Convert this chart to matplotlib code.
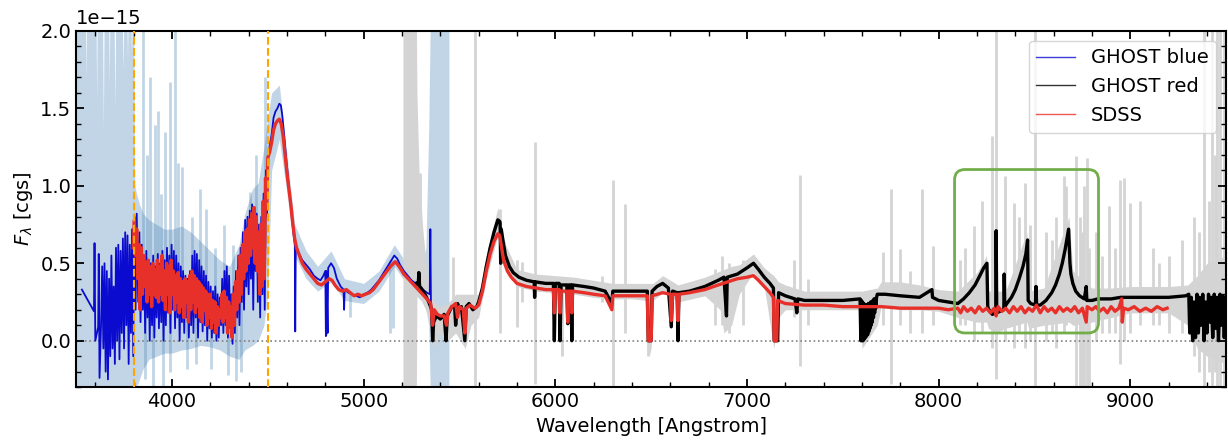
import numpy as np
import matplotlib
matplotlib.use("Agg")
import matplotlib.pyplot as plt
from matplotlib.patches import FancyBboxPatch
from matplotlib.ticker import MultipleLocator, FuncFormatter

# ---- data (flux in units of 1e-15 cgs) ----
# GHOST blue arm
blue_wave = [3530, 3593, 3596, 3600, 3615, 3618, 3622, 3630, 3636,
             3642, 3648, 3654, 3660, 3666, 3672, 3678, 3684, 3690, 3696,
             3702, 3708, 3714, 3720, 3726, 3732, 3738, 3744, 3750, 3756,
             3762, 3768, 3774, 3780, 3786, 3792, 3798, 3804, 3810, 3816,
             3824, 3830, 3836, 3842, 3848, 3854, 3860, 3866, 3872, 3878,
             3884, 3890, 3896, 3902, 3908, 3914, 3920, 3926, 3932, 3938,
             3944, 3950, 3956, 3962, 3968, 3974, 3980, 3986, 3992, 3998,
             4004, 4010, 4016, 4022, 4028, 4034, 4040, 4046, 4052, 4058,
             4064, 4070, 4076, 4082, 4088, 4094, 4100, 4106, 4112, 4118,
             4124, 4130, 4136, 4142, 4148, 4154, 4160, 4166, 4172, 4178,
             4184, 4190, 4196, 4202, 4208, 4214, 4220, 4226, 4232, 4238,
             4244, 4250, 4256, 4262, 4268, 4274, 4280, 4286, 4292, 4298,
             4304, 4310, 4316, 4322, 4328, 4334, 4340, 4346, 4352, 4358,
             4364, 4370, 4376, 4382, 4388, 4394, 4400, 4406, 4412, 4418,
             4424, 4430, 4436, 4442, 4448, 4454, 4460, 4466, 4472, 4478,
             4484, 4490, 4496, 4502, 4510, 4520, 4530, 4540, 4550, 4560,
             4568, 4575, 4585, 4595, 4605, 4615, 4625, 4635, 4641, 4643,
             4646, 4660, 4680, 4700, 4720, 4740, 4760, 4775, 4790, 4800,
             4803, 4806, 4812, 4815, 4830, 4845, 4860, 4880, 4895, 4898,
             4901, 4920, 4940, 4960, 4980, 5000, 5020, 5040, 5060, 5080,
             5100, 5120, 5140, 5160, 5175, 5190, 5210, 5230, 5250, 5270,
             5290, 5310, 5330, 5345, 5348, 5351, 5355]
blue_flux = [0.33, 0.19, 0.63, 0.00, 0.09, 0.56, -0.24, 0.10, 0.48,
             -0.05, 0.50, -0.20, 0.45, -0.25, 0.40, -0.10, 0.55, -0.05, 0.35,
             -0.15, 0.60, 0.00, 0.62, -0.12, 0.58, 0.05, 0.66, -0.05, 0.70,
             0.10, 0.68, -0.15, 0.62, 0.05, 0.72, -0.10, 0.80, 0.20, 0.82,
             0.25, 0.70, 0.12, 0.62, 0.20, 0.55, 0.05, 0.58, 0.15, 0.52,
             0.00, 0.50, 0.10, 0.55, 0.02, 0.48, 0.15, 0.56, 0.08, 0.50,
             0.12, 0.58, 0.00, 0.52, 0.10, 0.60, 0.18, 0.55, 0.05, 0.62,
             0.20, 0.58, 0.08, 0.55, 0.15, 0.50, 0.00, 0.48, 0.12, 0.45,
             0.05, 0.42, 0.15, 0.40, 0.02, 0.45, 0.10, 0.55, 0.05, 0.58,
             0.15, 0.56, 0.02, 0.52, 0.12, 0.48, 0.06, 0.45, 0.10, 0.42,
             0.00, 0.38, 0.08, 0.35, 0.02, 0.32, 0.05, 0.35, 0.00, 0.30,
             0.02, 0.28, 0.10, 0.40, 0.05, 0.45, 0.10, 0.48, 0.02, 0.42,
             0.08, 0.30, -0.02, 0.35, 0.05, 0.45, 0.15, 0.55, 0.10, 0.60,
             0.25, 0.70, 0.20, 0.78, 0.35, 0.80, 0.30, 0.84, 0.40, 0.88,
             0.20, 0.85, 0.45, 0.82, 0.25, 0.75, 0.15, 0.80, 0.30, 0.95,
             0.20, 1.10, 0.80, 1.20, 1.26, 1.33, 1.44, 1.48, 1.50, 1.53,
             1.52, 1.46, 1.33, 1.19, 1.06, 0.93, 0.80, 0.68, 0.62, 0.06,
             0.62, 0.57, 0.52, 0.49, 0.46, 0.42, 0.40, 0.39, 0.42, 0.45,
             0.03, 0.45, 0.05, 0.47, 0.50, 0.47, 0.40, 0.35, 0.33, 0.20,
             0.33, 0.31, 0.30, 0.29, 0.28, 0.30, 0.31, 0.33, 0.36, 0.39,
             0.43, 0.47, 0.51, 0.55, 0.53, 0.49, 0.45, 0.42, 0.39, 0.37,
             0.35, 0.33, 0.31, 0.30, 0.72, 0.25, 0.20]

# GHOST red arm
red_arm_wave = [5275, 5285, 5288, 5292, 5300, 5320, 5340, 5355, 5360, 5365,
                5380, 5400, 5420, 5430, 5436, 5460, 5475, 5480, 5490, 5500,
                5510, 5528, 5535, 5550, 5570, 5590, 5600, 5620, 5640, 5660,
                5680, 5700, 5710, 5712, 5715, 5718, 5725, 5740, 5760, 5780,
                5810, 5850, 5890, 5892, 5895, 5950, 5990, 5995, 6000, 6020,
                6025, 6030, 6060, 6065, 6070, 6082, 6086, 6090, 6150, 6200,
                6260, 6295, 6300, 6350, 6420, 6480, 6485, 6500, 6505, 6530,
                6560, 6590, 6605, 6612, 6636, 6640, 6645, 6700, 6780, 6850,
                6880, 6893, 6897, 6950, 7000, 7034, 7060, 7090, 7120, 7138,
                7142, 7160, 7165, 7200, 7250, 7260, 7265, 7300, 7400, 7500,
                7590, 7594, 7597, 7600, 7603, 7606, 7609, 7612, 7615, 7618,
                7621, 7624, 7627, 7630, 7633, 7636, 7639, 7642, 7645, 7648,
                7651, 7654, 7657, 7660, 7663, 7666, 7669, 7672, 7676, 7680,
                7720, 7800, 7900, 7965, 7968, 8000, 8050, 8100, 8130, 8160,
                8190, 8215, 8235, 8252, 8256, 8262, 8280, 8298, 8300, 8303,
                8320, 8340, 8342, 8345, 8356, 8380, 8400, 8420, 8440, 8455,
                8464, 8467, 8480, 8505, 8508, 8511, 8530, 8560, 8590, 8610,
                8630, 8645, 8660, 8670, 8678, 8681, 8685, 8690, 8700, 8715,
                8735, 8760, 8770, 8773, 8800, 8830, 8900, 8950, 9000, 9100,
                9200, 9290, 9305, 9310, 9318, 9325, 9332, 9340, 9348, 9355,
                9362, 9370, 9378, 9385, 9392, 9400, 9408, 9415, 9422, 9430,
                9438, 9445, 9452, 9460, 9468, 9475, 9482, 9490, 9498]
red_arm_flux = [0.37, 0.36, 0.44, 0.35, 0.34, 0.30, 0.25, 0.20, 0.00, 0.12,
                0.16, 0.14, 0.17, 0.00, 0.16, 0.22, 0.22, 0.10, 0.24, 0.20,
                0.22, 0.00, 0.22, 0.24, 0.20, 0.22, 0.25, 0.34, 0.48, 0.60,
                0.70, 0.78, 0.77, 0.76, 0.50, 0.72, 0.66, 0.55, 0.48, 0.44,
                0.41, 0.39, 0.38, 0.28, 0.38, 0.37, 0.37, 0.00, 0.37, 0.37,
                0.00, 0.36, 0.36, 0.11, 0.36, 0.36, 0.00, 0.36, 0.35, 0.34,
                0.32, 0.24, 0.32, 0.32, 0.32, 0.32, 0.00, 0.00, 0.32, 0.35,
                0.37, 0.34, 0.09, 0.32, 0.31, 0.00, 0.31, 0.32, 0.35, 0.39,
                0.41, 0.16, 0.41, 0.43, 0.47, 0.50, 0.46, 0.41, 0.37, 0.34,
                0.00, 0.00, 0.31, 0.29, 0.27, 0.18, 0.27, 0.26, 0.26, 0.26,
                0.27, 0.00, 0.26, 0.00, 0.25, 0.00, 0.24, 0.01, 0.23, 0.02,
                0.23, 0.03, 0.23, 0.04, 0.24, 0.06, 0.24, 0.08, 0.25, 0.10,
                0.25, 0.12, 0.26, 0.15, 0.27, 0.18, 0.27, 0.21, 0.28, 0.30,
                0.30, 0.29, 0.28, 0.33, 0.28, 0.26, 0.25, 0.24, 0.27, 0.31,
                0.36, 0.42, 0.47, 0.50, 0.22, 0.20, 0.17, 0.18, 0.71, 0.18,
                0.19, 0.20, 0.43, 0.22, 0.24, 0.28, 0.33, 0.40, 0.48, 0.56,
                0.65, 0.26, 0.24, 0.23, 0.35, 0.23, 0.23, 0.26, 0.31, 0.36,
                0.43, 0.50, 0.59, 0.66, 0.72, 0.62, 0.50, 0.43, 0.37, 0.32,
                0.29, 0.27, 0.35, 0.26, 0.26, 0.27, 0.27, 0.28, 0.28, 0.28,
                0.28, 0.29, 0.30, 0.05, 0.28, 0.00, 0.25, 0.02, 0.30, 0.05,
                0.28, 0.10, 0.30, 0.00, 0.25, 0.05, 0.30, 0.12, 0.28, 0.02,
                0.30, 0.08, 0.28, 0.00, 0.30, 0.10, 0.29, 0.02, 0.28]

# SDSS
sdss_wave = [3798, 3804, 3810, 3816, 3822, 3828, 3834, 3840, 3846, 3852,
             3858, 3864, 3870, 3876, 3882, 3888, 3894, 3900, 3906, 3912,
             3918, 3924, 3930, 3936, 3942, 3948, 3954, 3960, 3966, 3972,
             3978, 3984, 3990, 3996, 4002, 4008, 4014, 4020, 4026, 4032,
             4038, 4044, 4050, 4056, 4062, 4068, 4074, 4080, 4086, 4092,
             4098, 4104, 4110, 4116, 4122, 4128, 4134, 4140, 4146, 4152,
             4158, 4164, 4170, 4176, 4182, 4188, 4194, 4200, 4206, 4212,
             4218, 4224, 4230, 4236, 4242, 4248, 4254, 4260, 4266, 4272,
             4278, 4284, 4290, 4296, 4302, 4308, 4314, 4320, 4326, 4332,
             4338, 4344, 4350, 4356, 4362, 4368, 4374, 4380, 4386, 4392,
             4398, 4404, 4410, 4416, 4422, 4428, 4434, 4440, 4446, 4452,
             4458, 4464, 4470, 4476, 4482, 4488, 4494, 4500, 4510, 4520,
             4530, 4540, 4550, 4560, 4570, 4580, 4590, 4600, 4610, 4620,
             4630, 4640, 4650, 4665, 4680, 4700, 4720, 4740, 4760, 4780,
             4800, 4820, 4835, 4850, 4870, 4890, 4910, 4930, 4950, 4970,
             4990, 5010, 5030, 5050, 5080, 5110, 5140, 5165, 5185, 5210,
             5240, 5270, 5300, 5330, 5350, 5360, 5368, 5385, 5400, 5420,
             5432, 5440, 5460, 5480, 5490, 5500, 5520, 5528, 5536, 5555,
             5580, 5600, 5620, 5640, 5660, 5680, 5700, 5710, 5720, 5730,
             5750, 5770, 5800, 5850, 5900, 5950, 5990, 5995, 6000, 6020,
             6025, 6030, 6060, 6065, 6070, 6082, 6086, 6090, 6150, 6200,
             6260, 6295, 6300, 6400, 6480, 6485, 6500, 6505, 6560, 6600,
             6605, 6612, 6635, 6640, 6645, 6700, 6780, 6850, 6900, 6950,
             7000, 7034, 7060, 7090, 7120, 7138, 7142, 7155, 7160, 7200,
             7300, 7400, 7500, 7600, 7700, 7800, 7900, 8000, 8050, 8100,
             8115, 8130, 8150, 8170, 8190, 8210, 8230, 8250, 8270, 8290,
             8300, 8310, 8330, 8350, 8370, 8390, 8410, 8430, 8450, 8470,
             8490, 8510, 8530, 8550, 8570, 8590, 8610, 8630, 8650, 8670,
             8690, 8710, 8730, 8750, 8770, 8775, 8800, 8820, 8840, 8860,
             8880, 8900, 8920, 8940, 8955, 8958, 8965, 8990, 9020, 9050,
             9080, 9110, 9140, 9170, 9192]
sdss_flux = [0.60, 0.78, 0.55, 0.72, 0.40, 0.62, 0.20, 0.60, 0.30, 0.55,
             0.35, 0.50, 0.25, 0.52, 0.30, 0.48, 0.22, 0.50, 0.30, 0.46,
             0.28, 0.52, 0.25, 0.48, 0.30, 0.55, 0.26, 0.45, 0.20, 0.50,
             0.30, 0.48, 0.18, 0.52, 0.30, 0.45, 0.20, 0.42, 0.25, 0.44,
             0.18, 0.40, 0.22, 0.38, 0.15, 0.40, 0.25, 0.38, 0.12, 0.42,
             0.20, 0.45, 0.25, 0.42, 0.18, 0.40, 0.22, 0.38, 0.15, 0.36,
             0.12, 0.34, 0.20, 0.32, 0.10, 0.30, 0.15, 0.30, 0.08, 0.26,
             0.12, 0.25, 0.05, 0.22, 0.10, 0.20, 0.15, 0.30, 0.12, 0.32,
             0.15, 0.28, 0.05, 0.25, 0.10, 0.22, 0.02, 0.30, 0.10, 0.38,
             0.20, 0.45, 0.25, 0.55, 0.30, 0.62, 0.40, 0.70, 0.45, 0.72,
             0.50, 0.78, 0.55, 0.82, 0.60, 0.86, 0.50, 0.80, 0.45, 0.70,
             0.30, 0.75, 0.35, 0.90, 0.40, 1.05, 0.85, 1.18, 1.22, 1.28,
             1.36, 1.40, 1.42, 1.43, 1.40, 1.32, 1.20, 1.08, 0.98, 0.88,
             0.76, 0.66, 0.60, 0.55, 0.50, 0.46, 0.43, 0.40, 0.37, 0.36,
             0.38, 0.40, 0.39, 0.36, 0.33, 0.32, 0.33, 0.31, 0.29, 0.30,
             0.29, 0.30, 0.31, 0.33, 0.38, 0.43, 0.48, 0.51, 0.48, 0.43,
             0.39, 0.35, 0.31, 0.27, 0.24, 0.10, 0.20, 0.17, 0.16, 0.16,
             0.10, 0.18, 0.22, 0.24, 0.15, 0.22, 0.20, 0.05, 0.21, 0.23,
             0.21, 0.23, 0.32, 0.45, 0.56, 0.64, 0.69, 0.68, 0.60, 0.52,
             0.45, 0.41, 0.37, 0.35, 0.34, 0.33, 0.33, 0.18, 0.33, 0.33,
             0.18, 0.32, 0.32, 0.12, 0.32, 0.32, 0.18, 0.32, 0.31, 0.30,
             0.29, 0.20, 0.29, 0.29, 0.29, 0.00, 0.00, 0.29, 0.31, 0.30,
             0.13, 0.30, 0.30, 0.13, 0.30, 0.31, 0.33, 0.36, 0.38, 0.40,
             0.41, 0.42, 0.39, 0.35, 0.31, 0.28, 0.00, 0.00, 0.26, 0.24,
             0.23, 0.23, 0.22, 0.22, 0.22, 0.21, 0.21, 0.21, 0.20, 0.21,
             0.18, 0.22, 0.19, 0.21, 0.18, 0.22, 0.19, 0.21, 0.18, 0.21,
             0.16, 0.22, 0.19, 0.21, 0.18, 0.22, 0.19, 0.22, 0.18, 0.21,
             0.19, 0.23, 0.18, 0.22, 0.19, 0.21, 0.18, 0.22, 0.19, 0.21,
             0.19, 0.22, 0.18, 0.21, 0.12, 0.22, 0.20, 0.22, 0.19, 0.21,
             0.18, 0.22, 0.19, 0.21, 0.27, 0.12, 0.21, 0.20, 0.22, 0.19,
             0.21, 0.19, 0.22, 0.20, 0.21]

# uncertainty envelopes (lower / upper)
blue_err_wave = [3500, 3548, 3551, 3554, 3604, 3607, 3610, 3638, 3642, 3646,
                 3670, 3673, 3676, 3698, 3702, 3706, 3741, 3745, 3749, 3765,
                 3768, 3771, 3785, 3789, 3793, 3800, 3806, 3815, 3830,
                 3850, 3880, 3920, 3960, 4000, 4050, 4100, 4150, 4200, 4250,
                 4300, 4350, 4380, 4420, 4450, 4480, 4500, 4520, 4560, 4600,
                 4640, 4700, 4760, 4830, 4900, 5000, 5080, 5160, 5250, 5300,
                 5325, 5340, 5348, 5445]
blue_err_lo = [-0.35, -0.35, -0.35, -0.35, -0.35, -0.35, -0.35, -0.35, -0.35, -0.35,
               -0.35, -0.35, -0.35, -0.35, -0.35, -0.35, -0.35, -0.35, -0.35, -0.35,
               -0.35, -0.35, -0.35, -0.35, -0.35, -0.35, -0.35, -0.30, -0.25,
               -0.18, -0.12, -0.10, -0.08, -0.08, -0.06, -0.05, -0.03, -0.04, -0.06,
               -0.10, -0.12, -0.06, -0.03, 0.00, 0.10, 0.30, 1.10, 1.30, 0.95,
               0.55, 0.40, 0.32, 0.38, 0.26, 0.24, 0.32, 0.48, 0.32, 0.26,
               0.20, 0.10, -0.35, -0.35]
blue_err_hi = [2.10, 2.10, 1.70, 2.10, 2.10, 1.55, 2.10, 2.10, 1.37, 2.10,
               2.10, 1.65, 2.10, 2.10, 1.50, 2.10, 2.10, 1.75, 2.10, 2.10,
               1.80, 2.10, 2.10, 1.85, 2.10, 2.10, 1.00, 0.95, 0.88,
               0.82, 0.78, 0.75, 0.72, 0.72, 0.74, 0.70, 0.64, 0.58, 0.52,
               0.48, 0.62, 0.82, 0.98, 1.02, 1.25, 1.45, 1.60, 1.65, 1.20,
               0.75, 0.58, 0.48, 0.58, 0.40, 0.37, 0.45, 0.62, 0.45, 0.42,
               0.60, 1.40, 2.10, 2.10]

red_err_wave = [5205, 5275, 5278, 5290, 5310, 5330, 5350, 5365, 5400, 5440,
                5480, 5530, 5560, 5600, 5640, 5700, 5740, 5800, 5900, 6000,
                6100, 6200, 6300, 6400, 6480, 6490, 6500, 6510, 6560, 6640,
                6780, 6860, 6880, 6920, 6960, 7034, 7090, 7140, 7165, 7200,
                7300, 7400, 7500, 7590, 7600, 7680, 7700, 7800, 7900, 8000,
                8100, 8200, 8250, 8260, 8300, 8350, 8460, 8470, 8550, 8680,
                8700, 8800, 8900, 9000, 9100, 9200, 9300, 9350, 9400, 9500]
red_err_lo = [-0.35, -0.35, 0.30, 0.28, 0.24, 0.18, 0.12, -0.05, 0.05, 0.00,
              0.05, -0.05, 0.10, 0.15, 0.40, 0.68, 0.48, 0.35, 0.32, 0.31,
              0.30, 0.28, 0.27, 0.27, 0.26, -0.10, -0.05, 0.26, 0.31, 0.25,
              0.29, 0.20, 0.05, 0.10, 0.30, 0.44, 0.35, -0.05, 0.15, 0.20,
              0.20, 0.20, 0.20, 0.20, -0.05, 0.10, 0.22, 0.20, 0.20, 0.19,
              0.15, 0.12, 0.12, 0.08, 0.05, 0.08, 0.12, 0.08, 0.10, 0.12,
              0.10, 0.12, 0.15, 0.18, 0.18, 0.18, 0.10, -0.05, -0.10, -0.15]
red_err_hi = [2.10, 2.10, 1.60, 1.05, 0.70, 0.45, 0.32, 0.25, 0.22, 0.24,
              0.30, 0.30, 0.30, 0.30, 0.55, 0.86, 0.62, 0.46, 0.43, 0.42,
              0.41, 0.39, 0.37, 0.37, 0.37, 0.37, 0.37, 0.37, 0.42, 0.36,
              0.41, 0.45, 0.46, 0.48, 0.49, 0.56, 0.47, 0.42, 0.38, 0.36,
              0.32, 0.32, 0.32, 0.32, 0.32, 0.34, 0.38, 0.38, 0.36, 0.33,
              0.32, 0.44, 0.55, 0.32, 0.32, 0.32, 0.70, 0.32, 0.34, 0.80,
              0.45, 0.34, 0.34, 0.35, 0.35, 0.35, 0.36, 0.42, 0.50, 0.55]

# single noisy pixels in the uncertainty arrays: wavelength, low, high
blue_spike_wave = [3850, 3885, 3929, 3963, 3989, 4015, 4050, 4146, 4407, 4485,
                   3903, 3955, 4077, 4360, 4805, 4930, 5140, 5152,
                   3870, 3912, 3945, 4030, 4103, 4180, 4224, 4270, 4320, 4440,
                   3860, 3990, 4125, 4205, 4290, 4335]
blue_spike_lo = [0.40, 0.40, 0.40, 0.40, 0.40, 0.40, 0.40, 0.40, 0.60, 0.60,
                 -0.30, -0.29, -0.18, -0.20, 0.04, 0.15, 0.05, 0.08,
                 0.40, 0.40, 0.40, 0.40, 0.40, 0.30, 0.30, 0.30, 0.30, 0.60,
                 -0.25, -0.20, -0.15, -0.18, -0.22, -0.26]
blue_spike_hi = [2.00, 1.70, 1.48, 1.35, 1.67, 2.00, 1.12, 0.98, 0.96, 1.70,
                 0.30, 0.30, 0.30, 0.30, 0.45, 0.32, 0.52, 0.52,
                 1.20, 1.39, 0.95, 1.15, 0.80, 0.85, 0.60, 0.75, 0.62, 1.20,
                 0.20, 0.20, 0.20, 0.20, 0.20, 0.20]

red_spike_wave = [5294, 5581, 5465, 5712, 5799, 5825, 5895, 6034, 6068, 6242,
                  6300, 6364, 6486, 6834, 6869, 6905, 6980, 7243, 7278, 7320,
                  7712, 7751, 7800, 7850, 7913, 7973, 8112, 8182, 8278, 8300,
                  8347, 8391, 8452, 8504, 8560, 8610, 8652, 8718, 8740, 8748,
                  8760, 8774, 8782, 8820, 8887, 8948, 8965, 9000, 9052, 9120,
                  9200, 9270, 9330, 9360, 9383, 9410, 9426, 9440, 9452, 9470,
                  9487, 8140, 8225, 8420, 8475, 8590, 8665, 8850, 8920, 9150]
red_spike_lo = [0.30, -0.30, 0.05, 0.05, 0.09, 0.25, -0.28, -0.10, 0.20, 0.25,
                -0.30, 0.05, -0.10, 0.10, 0.10, 0.05, 0.10, 0.15, -0.16, 0.10,
                0.10, -0.28, 0.10, 0.05, 0.05, 0.10, 0.10, 0.00, -0.05, -0.25,
                0.00, -0.05, -0.05, -0.30, 0.00, -0.05, 0.05, -0.30, -0.30, -0.30,
                -0.30, -0.30, -0.30, 0.00, 0.05, -0.15, 0.00, 0.05, 0.10, 0.10,
                0.05, 0.05, -0.10, -0.20, -0.30, -0.20, -0.30, -0.20, -0.30, -0.30,
                -0.30, 0.10, 0.05, 0.05, 0.00, 0.05, 0.10, 0.05, 0.05, 0.10]
red_spike_hi = [1.08, 2.10, 0.54, 0.85, 0.52, 0.51, 1.28, 0.40, 0.41, 0.42,
                1.04, 0.88, 0.35, 0.46, 0.55, 0.50, 0.52, 0.52, 1.07, 0.40,
                0.57, 0.98, 0.59, 0.45, 0.98, 0.61, 0.52, 0.74, 1.32, 2.10,
                1.06, 0.89, 1.02, 2.10, 0.70, 0.80, 1.06, 1.19, 0.80, 0.70,
                1.00, 1.18, 0.60, 0.70, 0.87, 1.04, 1.05, 0.89, 0.90, 0.60,
                0.55, 0.65, 0.80, 0.70, 2.10, 0.90, 2.10, 1.20, 2.10, 2.10,
                2.10, 0.60, 0.90, 0.80, 0.75, 0.65, 1.00, 0.55, 0.60, 0.50]

guide_lines = [3800, 4500]          # dashed orange markers
box_wave = (8083, 8834)             # highlighted region
box_flux = (0.05, 1.105)

scale = 1e-15
def s(v):
    return np.asarray(v, dtype=float) * scale

plt.rcParams['font.family'] = ['DejaVu Sans']
plt.rcParams['font.size'] = 14
plt.rcParams['xtick.direction'] = 'in'
plt.rcParams['ytick.direction'] = 'in'
plt.rcParams['xtick.top'] = True
plt.rcParams['ytick.right'] = True

fig = plt.figure(figsize=(12.28, 4.41), dpi=100)
ax = fig.add_axes([0.062, 0.122, 0.9365, 0.808])

blue_band = 'steelblue'
grey_band = '#d4d4d4'

ax.fill_between(blue_err_wave, s(blue_err_lo), s(blue_err_hi),
                color=blue_band, alpha=0.33, lw=0, zorder=1)
ax.vlines(blue_spike_wave, s(blue_spike_lo), s(blue_spike_hi),
          color=blue_band, alpha=0.33, lw=2, zorder=1)
ax.fill_between(red_err_wave, s(red_err_lo), s(red_err_hi),
                color=grey_band, lw=0, zorder=1)
ax.vlines(red_spike_wave, s(red_spike_lo), s(red_spike_hi),
          color=grey_band, lw=2, zorder=1)

ax.axhline(0, color='grey', ls=':', lw=1.2, zorder=1.5)

ax.plot(blue_wave, s(blue_flux), color='#0b0bcf', lw=1.3, zorder=2,
        label='GHOST blue')
ax.plot(red_arm_wave, s(red_arm_flux), color='k', lw=2.4, zorder=3,
        label='GHOST red')
ax.plot(sdss_wave, s(sdss_flux), color='#e8302a', lw=2.4, zorder=4,
        label='SDSS')

for w in guide_lines:
    ax.axvline(w, color='orange', ls='--', lw=1.5, zorder=5)

ax.set_xlim(3500, 9500)
ax.set_ylim(-0.3e-15, 2.0e-15)

# rounded box, built in axes-fraction coords so corners stay round
to_axes = ax.transData + ax.transAxes.inverted()
(x0, y0), (x1, y1) = to_axes.transform([(box_wave[0], box_flux[0] * scale),
                                        (box_wave[1], box_flux[1] * scale)])
bbox = ax.get_position()
aspect = (bbox.width * 12.28) / (bbox.height * 4.41)
ax.add_patch(FancyBboxPatch((x0, y0), x1 - x0, y1 - y0,
                            boxstyle='round,pad=0,rounding_size=0.009',
                            mutation_aspect=aspect,
                            transform=ax.transAxes, fill=False,
                            edgecolor='#72ad4a', lw=2, zorder=6))

ax.xaxis.set_major_locator(MultipleLocator(1000))
ax.xaxis.set_minor_locator(MultipleLocator(200))
ax.yaxis.set_major_locator(MultipleLocator(0.5e-15))
ax.yaxis.set_minor_locator(MultipleLocator(0.1e-15))
ax.yaxis.set_major_formatter(FuncFormatter(lambda v, _: f'{v / scale:.1f}'))
ax.tick_params(which='major', length=6, width=1.3)
ax.tick_params(which='minor', length=3.5, width=1.0)
for sp in ax.spines.values():
    sp.set_linewidth(1.5)
# scale factor written above the axis, where the offset text would sit
ax.text(0.0, 1.008, '1e\u221215', transform=ax.transAxes,
        ha='left', va='bottom', fontsize=14)

ax.set_xlabel('Wavelength [Angstrom]')
ax.set_ylabel(r'$F_\lambda$ [cgs]')

leg = ax.legend(loc='upper right')
for ln in leg.get_lines():
    ln.set_linewidth(1.0)
    ln.set_alpha(0.8)

fig.savefig('out.png', dpi=100)
